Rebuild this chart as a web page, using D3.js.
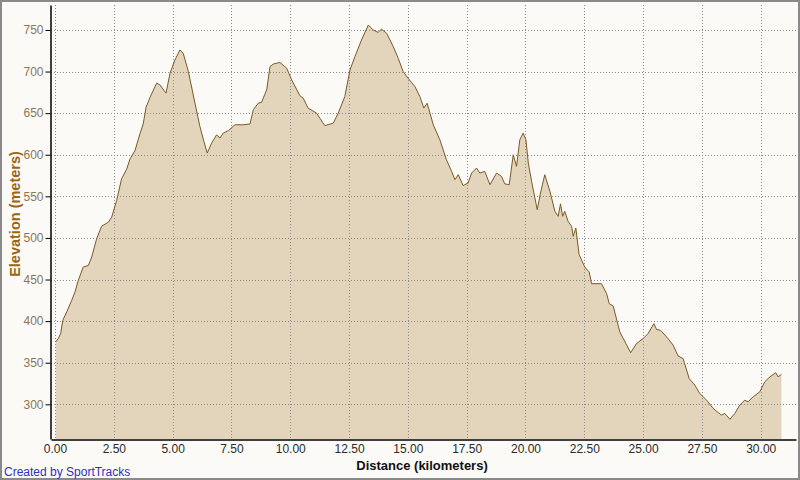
<!DOCTYPE html>
<html>
<head>
<meta charset="utf-8">
<script src="https://cdn.jsdelivr.net/npm/d3@7"></script>
<style>
  body { margin: 0; background: #fbfaf6; }
  svg text { font-family: "Liberation Sans", Arial, sans-serif; }
</style>
</head>
<body>
<div id="chart"></div>
<script>
/***** data *****/
var distKm = [0.03, 0.14, 0.24, 0.33, 0.5, 0.71, 0.85, 0.99, 1.2, 1.42, 1.56, 1.77, 1.98, 2.27, 2.41, 2.62, 2.83, 3.05, 3.19, 3.4,
  3.61, 3.75, 3.87, 4.04, 4.32, 4.46, 4.72, 4.89, 5.1, 5.31, 5.45, 5.67, 5.95, 6.16, 6.33, 6.47, 6.66, 6.87, 7.01, 7.15,
  7.37, 7.65, 8.0, 8.29, 8.43, 8.64, 8.78, 9.0, 9.14, 9.28, 9.56, 9.85, 10.06, 10.41, 10.55, 10.76, 11.12, 11.26, 11.47, 11.83,
  12.04, 12.32, 12.54, 12.75, 13.03, 13.32, 13.53, 13.74, 13.88, 14.1, 14.38, 14.59, 14.8, 15.01, 15.3, 15.51, 15.68, 15.82, 16.08, 16.36,
  16.64, 16.86, 17.0, 17.14, 17.35, 17.56, 17.71, 17.92, 18.06, 18.27, 18.49, 18.77, 18.98, 19.12, 19.31, 19.48, 19.62, 19.76, 19.9, 20.02,
  20.12, 20.26, 20.5, 20.64, 20.82, 21.04, 21.25, 21.39, 21.49, 21.58, 21.67, 21.81, 21.96, 22.03, 22.14, 22.28, 22.52, 22.71, 22.81, 23.23,
  23.45, 23.56, 23.73, 24.01, 24.27, 24.47, 24.72, 25.0, 25.21, 25.46, 25.57, 25.74, 26.0, 26.28, 26.49, 26.7, 26.96, 27.2, 27.41, 27.7,
  27.98, 28.33, 28.47, 28.69, 28.9, 29.11, 29.32, 29.46, 29.68, 29.96, 30.17, 30.39, 30.64, 30.74, 30.88];
var elevM = [375, 379, 385, 401, 411, 425, 435, 449, 465, 467, 477, 499, 514, 519, 525, 545, 571, 583, 595, 605,
  625, 637, 657, 669, 686, 684, 674, 698, 714, 726, 722, 700, 662, 634, 616, 602, 614, 624, 620, 626,
  629, 636, 636, 637, 654, 662, 663, 678, 706, 709, 711, 704, 690, 671, 668, 656, 650, 644, 635, 638,
  650, 670, 702, 718, 738, 756, 750, 747, 751, 746, 730, 716, 700, 692, 682, 670, 656, 662, 636, 618,
  594, 580, 570, 576, 563, 566, 578, 584, 578, 580, 564, 578, 574, 565, 564, 600, 586, 618, 626, 618,
  590, 568, 534, 554, 576, 556, 532, 526, 541, 526, 532, 520, 514, 502, 512, 480, 465, 459, 445, 445,
  433, 421, 418, 387, 373, 362, 373, 379, 385, 397, 390, 389, 381, 371, 358, 355, 331, 323, 313, 305,
  295, 287, 289, 282, 289, 299, 305, 303, 309, 315, 327, 333, 338, 333, 336];

var xTicks = [0, 2.5, 5, 7.5, 10, 12.5, 15, 17.5, 20, 22.5, 25, 27.5, 30];
var yTicks = [300, 350, 400, 450, 500, 550, 600, 650, 700, 750];

/***** chart parameters *****/
var width = 800;
var height = 480;
var plot = {left: 51, right: 796, top: 5, bottom: 439};

var svg = d3.select("#chart")
  .append("svg")
  .attr("width", width)
  .attr("height", height)
;

// outer frame
svg.append("rect")
  .attr("x", 1).attr("y", 1)
  .attr("width", width - 2).attr("height", height - 2)
  .attr("fill", "#fbfaf6")
  .attr("stroke", "#8a8a8a")
  .attr("stroke-width", 2)
;

//scales
var x = d3.scaleLinear()
  .domain([-0.17, 31.5])
  .range([plot.left, plot.right])
;
var y = d3.scaleLinear()
  .domain([258.3, 780])
  .range([plot.bottom, plot.top])
;

var points = distKm.map(function(d, i) { return {km: d, m: elevM[i]}; });

//area + outline
var area = d3.area()
  .x(function(d) { return x(d.km); })
  .y0(plot.bottom)
  .y1(function(d) { return y(d.m); })
;
var line = d3.line()
  .x(function(d) { return x(d.km); })
  .y(function(d) { return y(d.m); })
;

svg.append("path")
  .datum(points)
  .attr("d", area)
  .attr("fill", "#e3d4bc")
;

//grid lines (dotted)
var grid = svg.append("g").attr("class", "grid");
grid.selectAll("line.v")
  .data(xTicks)
  .enter()
  .append("line")
  .attr("class", "v")
  .attr("x1", function(d) { return Math.round(x(d)) + 0.5; })
  .attr("x2", function(d) { return Math.round(x(d)) + 0.5; })
  .attr("y1", plot.top)
  .attr("y2", plot.bottom)
;
grid.selectAll("line.h")
  .data(yTicks)
  .enter()
  .append("line")
  .attr("class", "h")
  .attr("x1", plot.left)
  .attr("x2", plot.right)
  .attr("y1", function(d) { return Math.round(y(d)) + 0.5; })
  .attr("y2", function(d) { return Math.round(y(d)) + 0.5; })
;
grid.selectAll("line")
  .attr("stroke", "#8c8c8c")
  .attr("stroke-width", 1)
  .attr("stroke-dasharray", "1,2")
;

svg.append("path")
  .datum(points)
  .attr("d", line)
  .attr("fill", "none")
  .attr("stroke", "#7a5a28")
  .attr("stroke-width", 1)
;

//axes
var xAxis = d3.axisBottom(x)
  .tickValues(xTicks)
  .tickFormat(d3.format(".2f"))
  .tickSize(0)
  .tickPadding(5)
;
var yAxis = d3.axisLeft(y)
  .tickValues(yTicks)
  .tickSizeInner(5)
  .tickSizeOuter(0)
  .tickPadding(2)
;

var gx = svg.append("g")
  .attr("transform", "translate(0," + (plot.bottom + 0.5) + ")")
  .call(xAxis)
;
gx.select(".domain").attr("stroke", "#000").attr("stroke-width", 1.5);
gx.selectAll("text")
  .attr("fill", "#2b2b2b")
  .style("font-size", "12px")
;

var gy = svg.append("g")
  .attr("transform", "translate(" + (plot.left - 0.5) + ",0)")
  .call(yAxis)
;
gy.select(".domain").attr("stroke", "#000").attr("stroke-width", 1.5);
gy.selectAll(".tick line").attr("stroke", "#000");
gy.selectAll("text")
  .attr("fill", "#8a7756")
  .style("font-size", "12px")
;

//axis titles
svg.append("text")
  .attr("x", 422)
  .attr("y", 470)
  .attr("text-anchor", "middle")
  .style("font-size", "13px")
  .style("font-weight", "bold")
  .attr("fill", "#111")
  .text("Distance (kilometers)")
;
svg.append("text")
  .attr("transform", "translate(20,214) rotate(-90)")
  .attr("text-anchor", "middle")
  .style("font-size", "14.5px")
  .style("font-weight", "bold")
  .attr("fill", "#9a6516")
  .text("Elevation (meters)")
;

//credit
svg.append("text")
  .attr("x", 4)
  .attr("y", 476)
  .style("font-size", "12px")
  .attr("fill", "#3030c0")
  .text("Created by SportTracks")
;
</script>
</body>
</html>
